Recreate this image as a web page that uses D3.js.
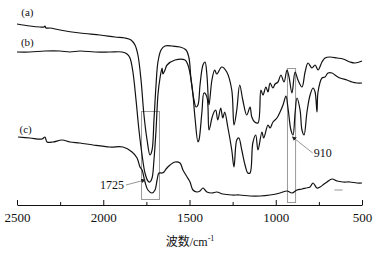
<!DOCTYPE html>
<html>
<head>
<meta charset="UTF-8">
<script src="https://cdnjs.cloudflare.com/ajax/libs/d3/7.8.5/d3.min.js"></script>
<style>
  body { margin: 0; background: #fff; }
  .curve { fill: none; stroke: #111; stroke-width: 1.2; stroke-linejoin: round; }
  .box { fill: none; stroke: #9a9a9a; stroke-width: 1; }
  .lead { stroke: #8a8a8a; stroke-width: 0.9; }
  .tick line, .domain { stroke: #111; }
</style>
</head>
<body>
<div id="chart"></div>
<script>
// wavenumber (cm-1), transmittance (a.u.)
const specA = [[2500,181],[2425,179],[2367,178],[2343,178],[2338,179],[2332,177],[2309,177],[2251,175],[2135,172],[2019,170],[1932,168],[1874,167],[1839,165],[1816,160],[1799,150],[1781,125],[1764,90],[1746,65],[1729,50],[1717,55],[1706,85],[1694,120],[1683,143],[1665,155],[1642,159],[1601,159],[1555,158],[1520,155],[1503,147],[1491,125],[1474,105],[1462,98],[1451,100],[1439,120],[1422,140],[1410,143],[1399,130],[1387,100],[1370,125],[1354,135],[1342,131],[1313,138],[1284,133],[1255,115],[1242,80],[1226,95],[1209,120],[1191,105],[1168,90],[1149,98],[1139,88],[1122,83],[1103,82],[1086,115],[1074,110],[1057,118],[1045,113],[1033,122],[1016,117],[1004,121],[987,123],[970,130],[952,123],[935,135],[923,128],[906,112],[888,133],[871,125],[848,118],[830,133],[813,142],[790,137],[772,140],[755,135],[732,143],[714,147],[686,148],[645,147],[610,146],[570,143],[541,142],[500,144]];

const specB = [[2500,153],[2425,153],[2338,154],[2251,154],[2193,153],[2135,154],[2048,153],[1961,153],[1891,153],[1862,151],[1845,147],[1828,133],[1810,105],[1793,75],[1775,50],[1758,32],[1741,24],[1729,23],[1717,27],[1706,45],[1694,75],[1683,110],[1671,127],[1659,137],[1654,131],[1642,135],[1630,140],[1584,145],[1526,145],[1509,140],[1486,120],[1468,87],[1451,63],[1445,65],[1428,93],[1416,112],[1399,108],[1387,75],[1370,87],[1358,93],[1348,95],[1336,85],[1319,97],[1307,87],[1296,93],[1278,78],[1255,55],[1242,38],[1226,65],[1214,67],[1197,55],[1178,40],[1162,32],[1149,32],[1133,62],[1116,70],[1103,55],[1080,73],[1070,67],[1045,80],[1033,77],[1016,83],[993,87],[975,93],[958,100],[941,109],[929,97],[912,75],[900,70],[888,92],[877,107],[859,95],[848,75],[836,70],[819,93],[801,110],[784,117],[772,113],[761,93],[755,113],[732,127],[714,128],[697,132],[674,132],[657,130],[628,127],[587,125],[558,123],[529,122],[500,122]];

const specC = [[2494,68],[2425,67],[2355,66],[2338,68],[2326,63],[2291,63],[2239,65],[2193,63],[2135,62],[2059,60],[1961,58],[1886,58],[1833,53],[1804,47],[1787,38],[1775,35],[1758,23],[1741,15],[1717,12],[1700,15],[1688,25],[1677,32],[1659,32],[1648,33],[1636,36],[1613,40],[1584,43],[1555,42],[1538,35],[1514,28],[1497,23],[1480,15],[1457,13],[1439,14],[1422,17],[1399,13],[1370,12],[1342,13],[1307,11],[1255,10],[1209,10],[1149,9],[1091,9],[1033,10],[975,12],[935,14],[906,12],[877,15],[848,16],[825,17],[801,18],[784,22],[761,17],[743,18],[720,21],[703,23],[674,26],[645,24],[610,23],[570,23],[529,22],[500,22]];

const series = [
  {name: "(a)", data: specA, labelAt: [2440, 189]},
  {name: "(b)", data: specB, labelAt: [2440, 159]},
  {name: "(c)", data: specC, labelAt: [2450, 72]}
];

const majorTicks = [2500, 2000, 1500, 1000, 500];
const minorTicks = [2250, 1750, 1250, 750];

// highlighted regions: [wn from, wn to, T low, T high]
const boxes = [[1781, 1677, 6, 94], [935, 888, 3, 137]];
// annotations: text, label anchor [wn, T], arrow target [wn, T]
const notes = [
  {text: "1725", at: [1880, 16], to: [1758, 25]},
  {text: "910", at: [780, 48], to: [903, 68]}
];
const artifact = [[660, 15], [612, 15]];

const serif = "'Liberation Serif', 'Times New Roman', Times, serif";

const W = 378, H = 254;
const svg = d3.select("#chart").append("svg").attr("width", W).attr("height", H);

const x = d3.scaleLinear().domain([2500, 500]).range([17, 362]);
const y = d3.scaleLinear().domain([0, 200]).range([205, 5]);

const line = d3.line().x(d => x(d[0])).y(d => y(d[1])).curve(d3.curveCatmullRom.alpha(0.5));

svg.selectAll(".box").data(boxes).enter().append("rect")
  .attr("class", "box")
  .attr("x", d => x(d[0]) + 0.5)
  .attr("y", d => y(d[3]) + 0.5)
  .attr("width", d => x(d[1]) - x(d[0]))
  .attr("height", d => y(d[2]) - y(d[3]));

svg.selectAll(".curve").data(series).enter().append("path")
  .attr("class", "curve")
  .attr("d", d => line(d.data));

svg.append("path").attr("class", "lead")
  .attr("d", d3.line().x(d => x(d[0])).y(d => y(d[1]))(artifact));

svg.selectAll(".slabel").data(series).enter().append("text")
  .attr("x", d => x(d.labelAt[0]))
  .attr("y", d => y(d.labelAt[1]))
  .attr("text-anchor", "middle")
  .attr("font-family", serif).attr("font-size", 11).attr("fill", "#111")
  .text(d => d.name);

// annotation leaders with arrow heads
svg.append("defs").append("marker")
  .attr("id", "ah").attr("viewBox", "0 0 6 6").attr("refX", 5).attr("refY", 3)
  .attr("markerWidth", 5).attr("markerHeight", 5).attr("orient", "auto")
  .append("path").attr("d", "M0,0L6,3L0,6Z").attr("fill", "#222");

notes.forEach(n => {
  const left = n.at[0] > n.to[0];
  const lx = left ? x(n.at[0]) + 2 : x(n.at[0]) - 1;
  const ly = y(n.at[1]) - 4;
  svg.append("line").attr("class", "lead")
    .attr("x1", lx).attr("y1", ly)
    .attr("x2", x(n.to[0])).attr("y2", y(n.to[1]))
    .attr("marker-end", "url(#ah)");
  svg.append("text")
    .attr("x", x(n.at[0])).attr("y", y(n.at[1]))
    .attr("text-anchor", left ? "end" : "start")
    .attr("font-family", serif).attr("font-size", 12).attr("fill", "#111")
    .text(n.text);
});

// bottom axis, ticks pointing up
const axis = svg.append("g").attr("transform", `translate(0,${y(0)})`)
  .call(d3.axisBottom(x).tickValues(majorTicks).tickSizeInner(-5).tickSizeOuter(0).tickPadding(8).tickFormat(d3.format("d")));
axis.attr("font-family", serif).attr("font-size", 13);
axis.selectAll(".tick text").attr("fill", "#111");
svg.append("g").attr("transform", `translate(0,${y(0)})`)
  .call(d3.axisBottom(x).tickValues(minorTicks).tickSize(-3).tickFormat(""))
  .select(".domain").remove();

const title = svg.append("text")
  .attr("x", 190).attr("y", 246)
  .attr("text-anchor", "middle")
  .attr("font-family", "'Noto Sans CJK SC', sans-serif")
  .attr("font-size", 12).attr("fill", "#111");
title.append("tspan").text("波数");
title.append("tspan").attr("font-family", serif).text("/cm");
title.append("tspan").attr("dy", -5).attr("font-size", 8).attr("font-family", serif).text("-1");
</script>
</body>
</html>
